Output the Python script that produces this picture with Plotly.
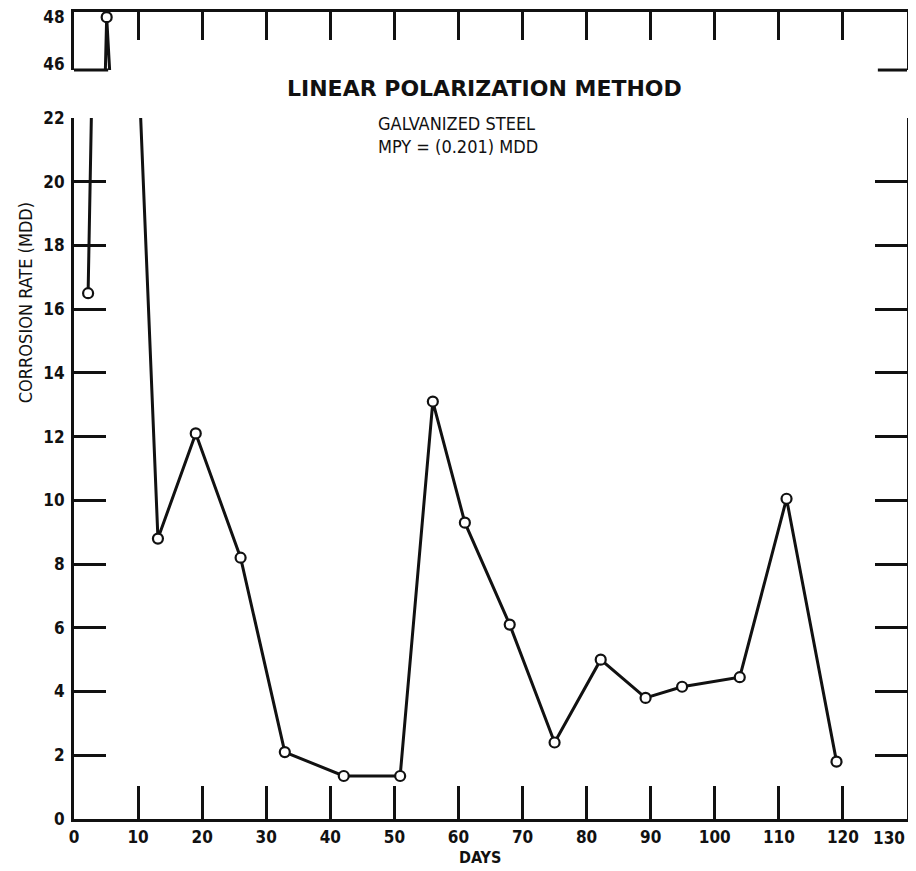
import plotly.graph_objects as go

# Data
days = [2.2, 5.1, 13.1, 19.0, 26.0, 32.9, 42.1, 50.9, 56.0, 61.0, 68.0, 75.0,
        82.2, 89.2, 94.9, 103.9, 111.2, 119.0]
mdd = [16.5, 48.0, 8.8, 12.1, 8.2, 2.1, 1.35, 1.35, 13.1, 9.3, 6.1, 2.4,
       5.0, 3.8, 4.15, 4.45, 10.05, 1.8]

x_ticks = list(range(0, 131, 10))
x_labels = [str(v) for v in x_ticks]
y_ticks_low = list(range(0, 23, 2))
y_ticks_high = [46, 48]

title_text = "LINEAR POLARIZATION METHOD"
note_lines = ["GALVANIZED STEEL", "MPY = (0.201) MDD"]
y_title = "CORROSION RATE (MDD)"
x_title = "DAYS"

BLACK = "#111111"
COND = "DejaVu Sans Condensed, DejaVu Sans, sans-serif"
tick_font = dict(family=COND, size=17, color=BLACK, weight="bold")

fig = go.Figure()
line_style = dict(color=BLACK, width=3)
marker_style = dict(symbol="circle", size=10, color="white", line=dict(color=BLACK, width=2.2))

fig.add_trace(go.Scatter(x=days, y=mdd, mode="lines+markers", line=line_style,
                         marker=marker_style, xaxis="x", yaxis="y", showlegend=False))
fig.add_trace(go.Scatter(x=days, y=mdd, mode="lines+markers", line=line_style,
                         marker=marker_style, xaxis="x2", yaxis="y2", showlegend=False))

common_axis = dict(showgrid=False, zeroline=False, showline=True, linecolor=BLACK,
                   linewidth=3, tickcolor=BLACK, tickwidth=2.5, tickfont=tick_font,
                   automargin=False)

fig.update_layout(
    width=908, height=863,
    margin=dict(l=66, r=9, t=4, b=52),
    paper_bgcolor="white", plot_bgcolor="white",
    # labels 0..120 centred on their ticks; the right-end label is placed left of its tick below
    xaxis=dict(domain=[0, 1], anchor="y", range=[0, 130], tickvals=x_ticks,
               ticktext=x_labels[:-1] + [""], ticks="inside", ticklen=33,
               ticklabelstandoff=1, **common_axis),
    yaxis=dict(domain=[0, 0.8687], anchor="x", range=[0, 22], tickvals=y_ticks_low,
               ticktext=[str(v) for v in y_ticks_low], ticks="inside", ticklen=32,
               ticklabelstandoff=3, mirror="ticks", **common_axis),
    xaxis2=dict(domain=[0, 1], anchor="y2", matches="x", range=[0, 130], side="top",
                tickvals=x_ticks[1:-1], ticks="inside", ticklen=28,
                showticklabels=False, **common_axis),
    yaxis2=dict(domain=[0.9281, 1], anchor="x2", range=[45.75, 48.22],
                tickvals=y_ticks_high, ticktext=[str(v) for v in y_ticks_high],
                ticks="", ticklabelstandoff=3, ticklabeloverflow="allow",
                mirror=True, **common_axis),
)

# right-end x tick label, drawn to the left of its tick as in the original
fig.add_annotation(text=x_labels[-1], xref="x", yref="paper", x=x_ticks[-1], y=-0.0235,
                   xanchor="right", yanchor="middle", showarrow=False, font=tick_font)

# axis-break brackets at bottom of the upper panel
for x0, x1 in [(0, 0.041), (0.965, 1)]:
    fig.add_shape(type="line", xref="x domain", yref="y2 domain", x0=x0, x1=x1,
                  y0=0, y1=0, line=dict(color=BLACK, width=3))

fig.add_annotation(text=title_text, xref="paper", yref="paper", x=0.493, y=0.9058,
                   xanchor="center", yanchor="middle", showarrow=False,
                   font=dict(family="DejaVu Sans, sans-serif", size=22, color=BLACK, weight="bold"))
fig.add_annotation(text="<br>".join(note_lines), xref="paper", yref="paper",
                   x=0.362, y=0.8482, xanchor="left", yanchor="middle", align="left",
                   showarrow=False,
                   font=dict(family=COND, size=18, color=BLACK))
fig.add_annotation(text=y_title, xref="paper", yref="paper", x=-0.058, y=0.640,
                   xanchor="center", yanchor="middle", textangle=-90, showarrow=False,
                   font=dict(family=COND, size=18, color=BLACK))
fig.add_annotation(text=x_title, xref="paper", yref="paper", x=0.487, y=-0.048,
                   xanchor="center", yanchor="middle", showarrow=False,
                   font=dict(family=COND, size=16, color=BLACK, weight="bold"))

fig.write_html("out.html")
